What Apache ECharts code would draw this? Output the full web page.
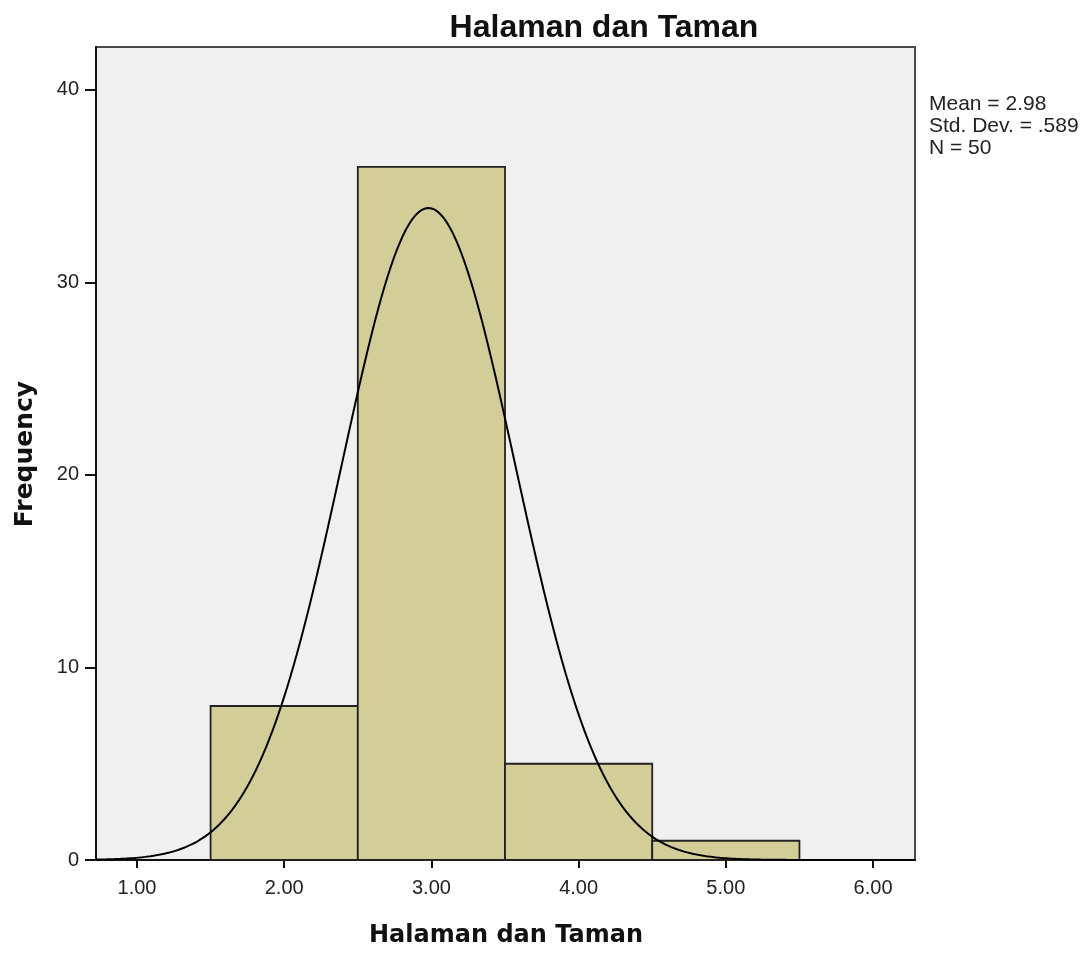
<!DOCTYPE html>
<html>
<head>
<meta charset="utf-8">
<script src="https://cdn.jsdelivr.net/npm/echarts@6/dist/echarts.min.js"></script>
<style>
  html, body { margin: 0; padding: 0; background: #ffffff; }
  #chart { width: 1090px; height: 954px; }
</style>
</head>
<body>
<div id="chart"></div>
<script>
// Histogram of "Halaman dan Taman" scores with a fitted normal curve
const binStarts = [1.5, 2.5, 3.5, 4.5];
const binEnds = [2.5, 3.5, 4.5, 5.5];
const frequencies = [8, 36, 5, 1];

const xTicks = [1, 2, 3, 4, 5, 6];
const yTicks = [0, 10, 20, 30, 40];

const statMean = 2.98;
const statStdDev = 0.589;
const statN = 50;
const statLines = ['Mean = 2.98', 'Std. Dev. = .589', 'N = 50'];

const xMin = 0.7215, xMax = 6.285;
const yMin = 0, yMax = 42.23;
const binWidth = 1;

// Normal density scaled to counts (N * bin width * pdf)
function normalCount(x) {
  const z = (x - statMean) / statStdDev;
  return statN * binWidth * Math.exp(-0.5 * z * z) / (statStdDev * Math.sqrt(2 * Math.PI));
}
const curvePoints = [];
for (let i = 0; i <= 600; i++) {
  const x = xMin + (xMax - xMin) * i / 600;
  curvePoints.push([x, normalCount(x)]);
}

const barData = frequencies.map((f, i) => [binStarts[i], binEnds[i], f]);

const gridLeft = 96, gridTop = 47, gridWidth = 819, gridHeight = 813;

const chart = echarts.init(document.getElementById('chart'), null, { renderer: 'canvas' });
chart.setOption({
  animation: false,
  backgroundColor: '#ffffff',
  grid: {
    left: gridLeft, top: gridTop, width: gridWidth, height: gridHeight,
    show: true, backgroundColor: '#f0f0f0', borderColor: '#4a4a4a', borderWidth: 2
  },
  xAxis: {
    type: 'value', min: xMin, max: xMax,
    splitLine: { show: false },
    axisLine: { show: true, onZero: false, lineStyle: { color: '#111', width: 2 } },
    axisTick: { show: true, customValues: xTicks, length: 8, lineStyle: { color: '#111', width: 2 } },
    axisLabel: {
      customValues: xTicks, margin: 18,
      formatter: v => v.toFixed(2),
      fontFamily: 'Liberation Sans', fontSize: 20, color: '#222'
    }
  },
  yAxis: {
    type: 'value', min: yMin, max: yMax,
    splitLine: { show: false },
    axisLine: { show: true, lineStyle: { color: '#111', width: 2 } },
    axisTick: { show: true, customValues: yTicks, length: 11, lineStyle: { color: '#111', width: 2 } },
    axisLabel: {
      customValues: yTicks, margin: 17,
      fontFamily: 'Liberation Sans', fontSize: 20, color: '#222'
    }
  },
  series: [
    {
      type: 'custom',
      data: barData,
      encode: { x: [0, 1], y: 2 },
      renderItem: function (params, api) {
        const p0 = api.coord([api.value(0), 0]);
        const p1 = api.coord([api.value(1), api.value(2)]);
        return {
          type: 'rect',
          shape: { x: p0[0], y: p1[1], width: p1[0] - p0[0], height: p0[1] - p1[1] },
          style: { fill: '#d3ce98', stroke: '#222', lineWidth: 1.8 }
        };
      },
      z: 2
    },
    {
      type: 'line',
      data: curvePoints,
      showSymbol: false,
      smooth: false,
      lineStyle: { color: '#000', width: 2 },
      z: 3
    }
  ],
  graphic: [
    {
      type: 'text', x: 604, y: 12,
      style: {
        text: 'Halaman dan Taman',
        font: 'bold 32px "Liberation Sans", Arial, sans-serif',
        fill: '#111', textAlign: 'center'
      }
    },
    {
      type: 'text', x: 506, y: 936,
      style: {
        text: 'Halaman dan Taman',
        font: 'bold 24px "DejaVu Sans", Verdana, sans-serif',
        fill: '#111', textAlign: 'center', textVerticalAlign: 'middle'
      }
    },
    {
      type: 'text', x: 25, y: 454, rotation: Math.PI / 2,
      style: {
        text: 'Frequency',
        font: 'bold 25px "DejaVu Sans", Verdana, sans-serif',
        fill: '#111', textAlign: 'center', textVerticalAlign: 'middle'
      }
    },
    {
      type: 'text', x: 929, y: 93,
      style: {
        text: statLines.join('\n'),
        font: '21px "Liberation Sans", Arial, sans-serif',
        lineHeight: 22,
        fill: '#222', textAlign: 'left'
      }
    }
  ]
});
</script>
</body>
</html>
